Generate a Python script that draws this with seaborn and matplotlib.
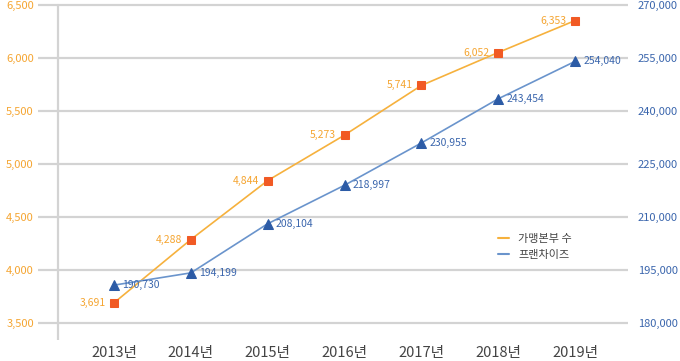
import matplotlib
matplotlib.use("Agg")
import matplotlib.pyplot as plt
from matplotlib.lines import Line2D
import pandas as pd
import seaborn as sns

# chart data
years = ["2013년", "2014년", "2015년", "2016년", "2017년", "2018년", "2019년"]
hq_counts = [3691, 4288, 4844, 5273, 5741, 6052, 6353]
franchises = [190730, 194199, 208104, 218997, 230955, 243454, 254040]
left_ticks = [3500, 4000, 4500, 5000, 5500, 6000, 6500]
right_ticks = [180000, 195000, 210000, 225000, 240000, 255000, 270000]
legend_labels = ["가맹본부 수", "프랜차이즈"]

ORANGE_LINE = "#f6b13d"
ORANGE_MARK = "#f15a24"
ORANGE_TEXT = "#f5a531"
BLUE_LINE = "#6a94cc"
BLUE_MARK = "#2c5ba6"
BLUE_TEXT = "#3b66ad"
GRID = "#d3d3d3"

sns.set_style("white")
plt.rcParams["font.family"] = ["Noto Sans CJK KR", "DejaVu Sans"]

df = pd.DataFrame({"idx": range(len(years)), "year": years,
                   "hq": hq_counts, "fr": franchises})

fig = plt.figure(figsize=(6.8, 3.61), dpi=100)
ax = fig.add_axes([38 / 680, 1 - 340 / 361, 590 / 680, 337 / 361])
ax2 = ax.twinx()

sns.lineplot(data=df, x="idx", y="hq", ax=ax, color=ORANGE_LINE, lw=1.2,
             marker="s", markersize=6, markerfacecolor=ORANGE_MARK,
             markeredgecolor=ORANGE_MARK, zorder=3)
sns.lineplot(data=df, x="idx", y="fr", ax=ax2, color=BLUE_LINE, lw=1.2,
             marker="^", markersize=7, markerfacecolor=BLUE_MARK,
             markeredgecolor=BLUE_MARK, zorder=3)

y_lo, y_hi = 3340, 6519
ax.set_xlim(-0.99, 6.69)
ax.set_ylim(y_lo, y_hi)
# right axis mapped linearly: 3500 <-> 180000, 6500 <-> 270000
ax2.set_ylim(180000 + (y_lo - 3500) * 30, 180000 + (y_hi - 3500) * 30)

ax.set_yticks(left_ticks)
ax.set_yticklabels([f"{v:,}" for v in left_ticks])
ax2.set_yticks(right_ticks)
ax2.set_yticklabels([f"{v:,}" for v in right_ticks])
ax.set_xticks(df["idx"])
ax.set_xticklabels(years)

ax.tick_params(axis="y", length=0, pad=3, labelsize=8, labelcolor=ORANGE_TEXT)
ax2.tick_params(axis="y", length=0, pad=7, labelsize=8, labelcolor=BLUE_TEXT)
ax.tick_params(axis="x", length=0, pad=4, labelsize=10.5, labelcolor="#444444")

ax.grid(axis="y", color=GRID, lw=1.6)
ax.grid(axis="x", visible=False)
ax2.grid(False)
ax.axvline(-0.73, ymin=0, ymax=(6500 - y_lo) / (y_hi - y_lo), color=GRID, lw=1.6)

for a in (ax, ax2):
    a.set_xlabel("")
    a.set_ylabel("")
    for s in a.spines.values():
        s.set_visible(False)

for i, v in enumerate(hq_counts):
    ax.annotate(f"{v:,}", (i, v), xytext=(-6, 0), textcoords="offset points",
                ha="right", va="center", fontsize=7.5, color=ORANGE_TEXT)
for i, v in enumerate(franchises):
    ax2.annotate(f"{v:,}", (i, v), xytext=(6, 0), textcoords="offset points",
                 ha="left", va="center", fontsize=7.5, color=BLUE_TEXT)

handles = [Line2D([], [], color=ORANGE_LINE, lw=1.5),
           Line2D([], [], color=BLUE_LINE, lw=1.5)]
fig.legend(handles, legend_labels, loc="upper left",
           bbox_to_anchor=(488 / 680, 1 - 224 / 361), frameon=False,
           fontsize=8, handlelength=1.0, labelspacing=0.5,
           labelcolor="#444444")

fig.savefig("out.png", dpi=100)
